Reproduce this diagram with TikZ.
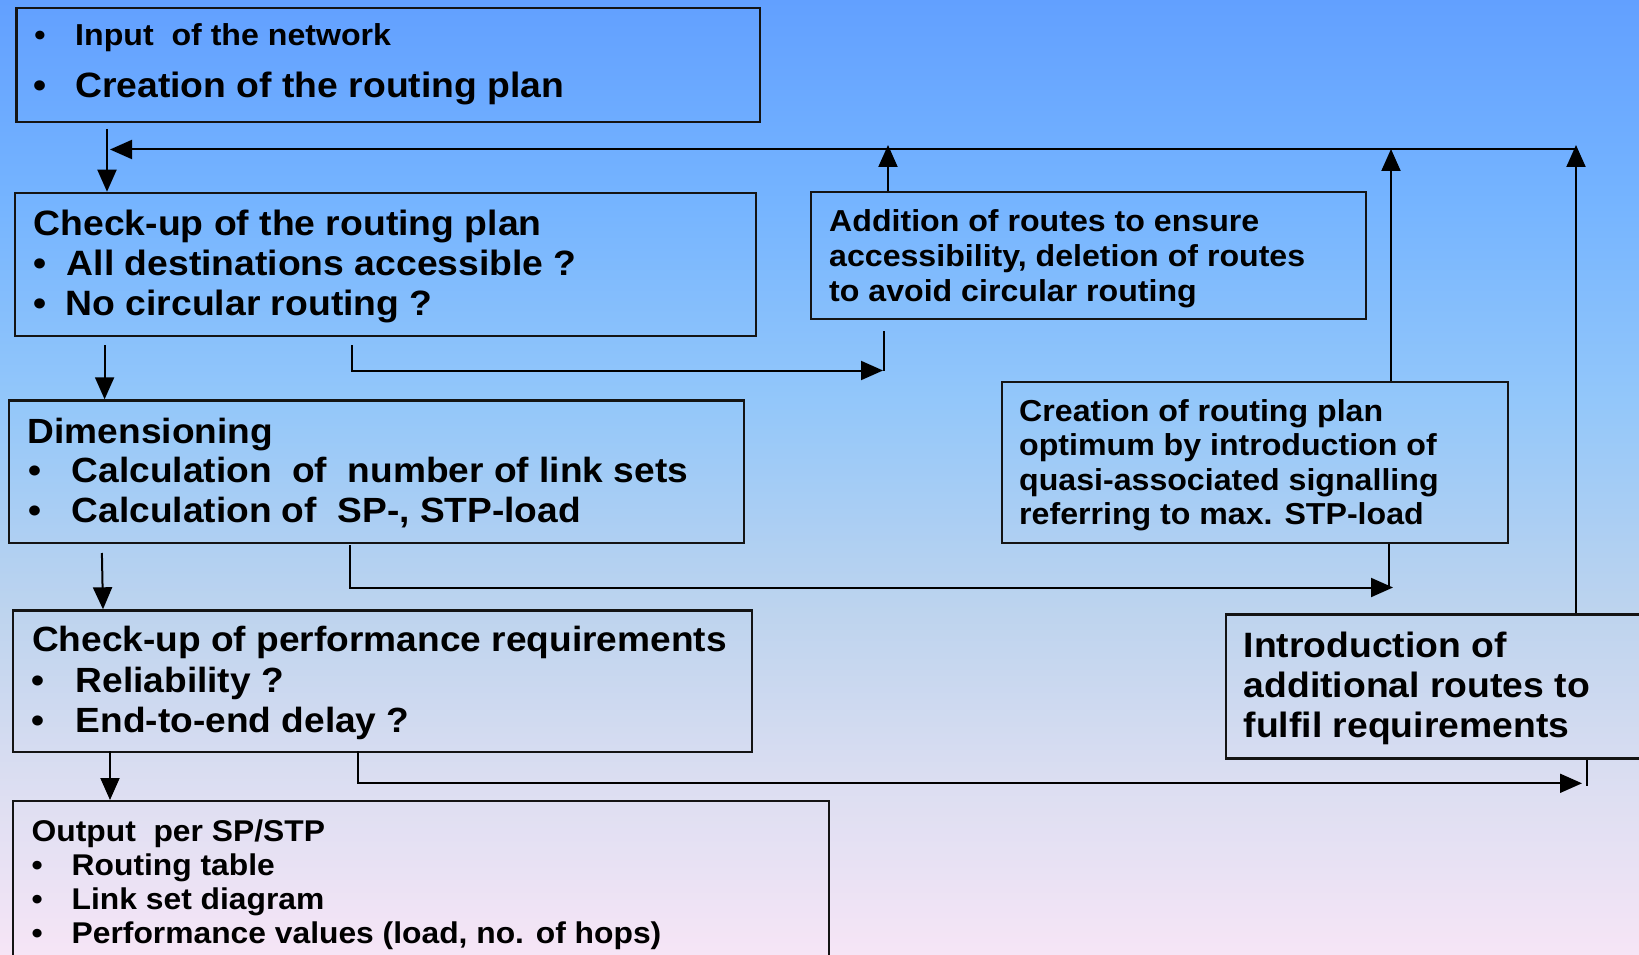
\documentclass[tikz,border=0pt]{standalone}
\usepackage{fontspec}
\setmainfont{Liberation Sans}[FakeStretch=1.06,Ligatures=CommonOff]
\usetikzlibrary{arrows.meta}
\definecolor{ctop}{RGB}{98,160,255}
\definecolor{cA}{RGB}{117,180,255}
\definecolor{cB}{RGB}{147,199,250}
\definecolor{cC}{RGB}{190,212,238}
\definecolor{cD}{RGB}{223,223,242}
\definecolor{cbot}{RGB}{246,229,246}
\definecolor{edge}{RGB}{20,20,20}
\pgfdeclareverticalshading{bgshade}{100bp}{color(0bp)=(cbot); color(25bp)=(cbot); color(32.9bp)=(cD); color(42.8bp)=(cC); color(54bp)=(cB); color(64.5bp)=(cA); color(75bp)=(ctop); color(100bp)=(ctop)}
\newcommand{\fbig}{\fontsize{35.2}{40}\selectfont\bfseries}
\newcommand{\fmid}{\fontsize{35.0}{40}\selectfont\bfseries}
\newcommand{\fsml}{\fontsize{30.3}{35}\selectfont\bfseries}
\newcommand{\fout}{\fontsize{30.0}{35}\selectfont\bfseries}
\begin{document}
\begin{tikzpicture}[x=1pt,y=-1pt,
  box/.style={draw=edge,line width=2.2pt,anchor=north west,inner sep=0pt},
  tl/.style={anchor=base west,inner sep=0pt,text=black},
  conn/.style={line width=2pt,draw=black},
  arr/.style={conn,-{Triangle[length=22pt,width=19pt]}}]
\shade[shading=bgshade] (0,0) rectangle (1639,955);
\useasboundingbox (0,0) rectangle (1639,955);
\begin{scope}
\clip (0,0) rectangle (1639,955);
% boxes
\node[box,minimum width=743.4pt,minimum height=113.7pt] (b1) at (15.3,7.3) {};
\node[box,minimum width=741.2pt,minimum height=143.3pt] (b2) at (13.8,191.7) {};
\node[box,minimum width=734.5pt,minimum height=142.4pt] (b3) at (8,399.3) {};
\node[box,minimum width=738.7pt,minimum height=141.7pt] (b4) at (12,609.3) {};
\node[box,minimum width=816pt,minimum height=180pt] (b5) at (12,800) {};
\node[box,minimum width=555pt,minimum height=126.7pt] (bA) at (810,191) {};
\node[box,minimum width=506pt,minimum height=160.7pt] (bC) at (1001,381) {};
\node[box,minimum width=450pt,minimum height=144pt] (bI) at (1225,613.3) {};
\end{scope}
% box 1 text
\node[tl,font=\fsml] (u1a) at (34.2,46) {•};
\node[tl,font=\fsml] (t1a) at (75,46) {Input~~of the network};
\node[tl,font=\fbig] (u1b) at (33.3,98) {•};
\node[tl,font=\fbig] (t1b) at (75,98) {Creation of the routing plan};
% box 2 text
\node[tl,font=\fbig] (t2a) at (33.5,235) {Check-up of the routing plan};
\node[tl,font=\fbig] (u2b) at (32.8,275) {•};
\node[tl,font=\fbig] (t2b) at (66.5,275) {All destinations accessible ?};
\node[tl,font=\fbig] (u2c) at (32.8,315) {•};
\node[tl,font=\fbig] (t2c) at (65.5,315) {No circular routing ?};
% box 3 text
\node[tl,font=\fmid] (t3a) at (27.5,443) {Dimensioning};
\node[tl,font=\fmid] (u3b) at (28.1,482) {•};
\node[tl,font=\fmid] (t3b) at (71.5,482) {Calculation~~of~~number of link sets};
\node[tl,font=\fmid] (u3c) at (28.1,522) {•};
\node[tl,font=\fmid] (t3c) at (71.5,522) {Calculation of~~SP-, STP-load};
% box 4 text
\node[tl,font=\fmid] (t4a) at (31.8,651) {Check-up of performance requirements};
\node[tl,font=\fmid] (u4b) at (31.5,692) {•};
\node[tl,font=\fmid] (t4b) at (75.5,692) {Reliability ?};
\node[tl,font=\fmid] (u4c) at (31.5,732) {•};
\node[tl,font=\fmid] (t4c) at (75.5,732) {End-to-end delay ?};
% box 5 text
\node[tl,font=\fout] (t5a) at (31.5,841) {Output~~per SP/STP};
\node[tl,font=\fout] (u5b) at (31.4,875) {•};
\node[tl,font=\fout] (t5b) at (71.5,875) {Routing table};
\node[tl,font=\fout] (u5c) at (31.4,909) {•};
\node[tl,font=\fout] (t5c) at (71.5,909) {Link set diagram};
\node[tl,font=\fout] (u5d) at (31.4,943) {•};
\node[tl,font=\fout] (t5d) at (71.5,943) {Performance values (load, no. of hops)};
% box A text
\node[tl,font=\fsml] (tAa) at (829,231.5) {Addition of routes to ensure};
\node[tl,font=\fsml] (tAb) at (829,266) {accessibility, deletion of routes};
\node[tl,font=\fsml] (tAc) at (829,301) {to avoid circular routing};
% box C text
\node[tl,font=\fsml] (tCa) at (1019,421) {Creation of routing plan};
\node[tl,font=\fsml] (tCb) at (1019,455.5) {optimum by introduction of};
\node[tl,font=\fsml] (tCc) at (1019,490) {quasi-associated signalling};
\node[tl,font=\fsml] (tCd) at (1019,524.5) {referring to max. STP-load};
% box I text
\node[tl,font=\fbig] (tIa) at (1243.5,657) {Introduction of};
\node[tl,font=\fbig] (tIb) at (1243.5,697) {additional routes to};
\node[tl,font=\fbig] (tIc) at (1243.5,737) {fulfil requirements};
% connector end points
\coordinate (c1) at (107,129);
\coordinate (fbR) at (1577,149.5);
\coordinate (fbL) at (110,149.5);
\coordinate (uA) at (888,145);
\coordinate (uC) at (1391,149);
\coordinate (uI) at (1576,145);
\coordinate (c2) at (104.6,345);
\coordinate (d1) at (352,345);
\coordinate (d2) at (883,370.5);
\coordinate (d3) at (884,331);
\coordinate (c3) at (101.9,553);
\coordinate (c3e) at (103,609.3);
\coordinate (e1) at (349.6,545);
\coordinate (e2) at (1393,587.5);
\coordinate (e3) at (1388.5,588);
\coordinate (c4) at (110,751);
\coordinate (f1) at (357.7,751);
\coordinate (f2) at (1582,783.3);
\coordinate (f3) at (1587,786);
% connectors
\draw[arr] (c1) -- (c1 |- b2.north);
\draw[arr] (fbR) -- (fbL);
\draw[arr] (uA |- bA.north) -- (uA);
\draw[arr] (uC |- bC.north) -- (uC);
\draw[arr] (uI |- bI.north) -- (uI);
\draw[arr] (c2) -- (c2 |- b3.north);
\draw[arr] (d1) |- (d2);
\draw[conn] (d3) -- (d3 |- d2);
\draw[arr] (c3) -- (c3e);
\draw[arr] (e1) |- (e2);
\draw[conn] (e3 |- bC.south) -- (e3);
\draw[arr] (c4) -- (c4 |- b5.north);
\draw[arr] (f1) |- (f2);
\draw[conn] (f3 |- bI.south) -- (f3);
\end{tikzpicture}
\end{document}
